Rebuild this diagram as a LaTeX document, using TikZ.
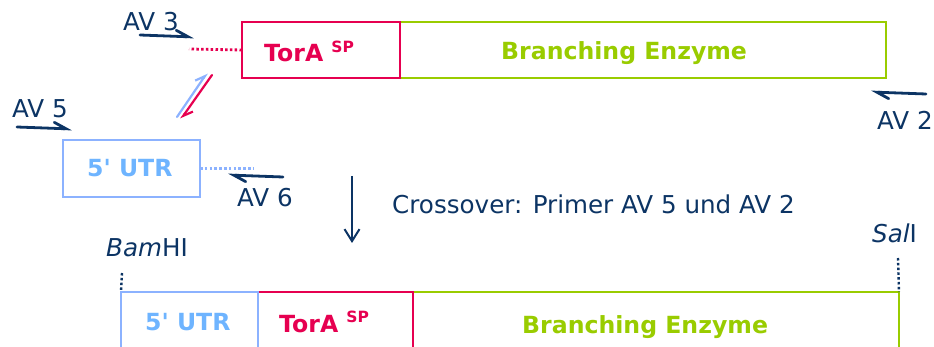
\documentclass[tikz,border=0pt]{standalone}
\usepackage{fontspec}
\setmainfont{DejaVu Sans}[ItalicFont={DejaVu Sans Oblique},BoldFont={DejaVu Sans Bold}]
\usetikzlibrary{arrows.meta}
\definecolor{navy}{RGB}{12,52,100}
\definecolor{tred}{RGB}{230,0,80}
\definecolor{tgreen}{RGB}{153,204,0}
\definecolor{utrline}{RGB}{140,178,255}
\definecolor{utrtext}{RGB}{110,180,255}
\tikzset{
  lab/.style={font=\fontsize{24.6}{28}\selectfont, text=navy, inner sep=0pt, anchor=base west},
  boxlab/.style={font=\fontsize{23.6}{28}\selectfont\bfseries, inner sep=0pt, anchor=base west},
  seg/.style={draw, line width=2.3pt, inner sep=0pt, outer sep=0pt, anchor=north west},
  primer/.style={navy, line width=2.8pt, line cap=round, -{Straight Barb[harpoon, length=12pt, width=12pt, line cap=round]}},
  diag/.style={line width=2.2pt, line cap=round, -{Straight Barb[harpoon, length=9pt, width=11pt]}},
  dots/.style={line width=2.8pt, dash pattern=on 2.5pt off 2.3pt},
}
\newcommand{\spx}{\fontsize{15.5}{15.5}\selectfont\raisebox{9.5pt}{SP}}
\begin{document}
\begin{tikzpicture}[x=1pt,y=-1pt]
\useasboundingbox (0,0) rectangle (934,347);
% top row
\node[seg, tgreen, minimum width=486, minimum height=56] (be) at (400,22) {};
\node[seg, tred, minimum width=158, minimum height=56] (tora) at (242,22) {};
\node[boxlab, text=tred] (toralab) at (264,62) {TorA \spx};
\node[boxlab, text=tgreen] (belab) at (501,60) {Branching Enzyme};
% utr
\node[seg, utrline, minimum width=137, minimum height=57] (utr) at (63,140) {};
\node[boxlab, text=utrtext] (utrlab) at (87,177) {5\textquotesingle{} UTR};
% dotted extensions
\coordinate (rd) at (189,49);
\draw[dots, tred] (tora.west) -- (rd);
\coordinate (bd) at (254,168.5);
\draw[dots, utrline] (utr.east) -- (bd);
% diagonal arrows
\coordinate (b1) at (177,117); \coordinate (b2) at (207,73);
\draw[diag, utrline] (b1) -- (b2);
\coordinate (r1) at (212,75); \coordinate (r2) at (181,119);
\draw[diag, tred] (r1) -- (r2);
% primers
\node[lab] (av3) at (123,31) {AV 3};
\coordinate (p3a) at (140,35); \coordinate (p3b) at (194,37);
\draw[primer] (p3a) -- (p3b);
\node[lab] (av5) at (12,118) {AV 5};
\coordinate (p5a) at (17,127); \coordinate (p5b) at (72,129);
\draw[primer] (p5a) -- (p5b);
\node[lab] (av6) at (237,207) {AV 6};
\coordinate (p6a) at (283,177); \coordinate (p6b) at (228,175);
\draw[primer] (p6a) -- (p6b);
\node[lab] (av2) at (877,130) {AV 2};
\coordinate (p2a) at (926,94); \coordinate (p2b) at (871,92);
\draw[primer] (p2a) -- (p2b);
% crossover
\coordinate (da) at (352,176); \coordinate (db) at (352,243);
\draw[navy, line width=2pt, -{Straight Barb[length=12pt, width=15pt]}] (da) -- (db);
\node[lab] (cross) at (392,214) {Crossover: Primer AV 5 und AV 2};
% bottom row
\node[seg, tgreen, minimum width=486, minimum height=80] (bbe) at (413,292) {};
\node[seg, tred, minimum width=155, minimum height=80] (btora) at (258,292) {};
\node[seg, utrline, minimum width=137, minimum height=80] (butr) at (121,292) {};
\node[boxlab, text=utrtext] (butrlab) at (145,330) {5\textquotesingle{} UTR};
\node[boxlab, text=tred] (btoralab) at (279,332) {TorA \spx};
\node[boxlab, text=tgreen] (bbelab) at (522,333) {Branching Enzyme};
% restriction sites
\node[lab] (bam) at (106,257) {\textit{Bam}HI};
\coordinate (bamt) at (122,273);
\draw[dots, navy, line width=2.4pt] (bamt) -- (butr.north west);
\node[lab] (sal) at (872,243) {\textit{Sal}I};
\coordinate (salt) at (898,258);
\draw[dots, navy, line width=2.4pt] (salt) -- (bbe.north east);
\end{tikzpicture}
\end{document}
